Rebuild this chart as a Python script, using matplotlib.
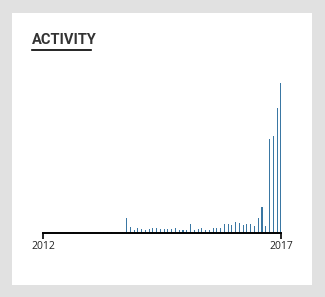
import matplotlib
matplotlib.use("Agg")
import matplotlib.pyplot as plt
from matplotlib.patches import Rectangle
from matplotlib.lines import Line2D

# bucket index (time buckets between 2012 and 2017) and activity values
buckets = [8, 16, 17, 18, 21] + list(range(22, 64))
activity = [1, 1, 1, 1, 1,
            15, 6, 3, 5, 4, 3, 4, 5, 5, 4, 4, 4,
            4, 5, 3, 3, 3, 9, 3, 4, 5, 3, 3, 5, 5, 5,
            9, 9, 8, 11, 10, 8, 9, 9, 7, 15, 26, 7,
            94, 97, 126, 151]
tick_labels = ["2012", "2017"]

W, H = 325, 297
fig = plt.figure(figsize=(W / 100, H / 100), dpi=100, facecolor="#e1e1e1")

# white card
fig.patches.append(Rectangle((12 / W, 1 - 285 / H), 300 / W, 272 / H,
                             transform=fig.transFigure, facecolor="white",
                             edgecolor="none", zorder=-5))

# title and underline
fig.text(31.5 / W, 1 - 40.5 / H, "ACTIVITY", fontsize=10.5, fontweight="bold",
         family=["Roboto", "DejaVu Sans"], color="#333333",
         ha="left", va="center")
fig.lines.append(Line2D([32 / W, 91 / W], [1 - 49.5 / H, 1 - 49.5 / H],
                        transform=fig.transFigure, color="black", lw=1.2))

xl, xr = 43, 281
yb, yt = 233, 82.7
ax = fig.add_axes([xl / W, 1 - yb / H, (xr - xl) / W, (yb - yt) / H])
ax.set_facecolor("none")
ax.set_zorder(2)
ax.bar(buckets, activity, width=0.28, color="#3a77a3", linewidth=0,
       antialiased=False)
left, right = -0.2, 63.05
ax.set_xlim(left, right)
ax.set_ylim(0, max(activity))
for s in ["top", "left", "right"]:
    ax.spines[s].set_visible(False)
ax.spines["bottom"].set_linewidth(1.4)
ax.spines["bottom"].set_color("black")
ax.set_yticks([])
ax.set_xticks([left, right])
ax.set_xticklabels(tick_labels, fontsize=7.5, color="#222222",
                   family=["Open Sans", "DejaVu Sans"])
ax.tick_params(axis="x", direction="out", length=4, width=1.2, pad=2,
               color="black")

fig.savefig("out.png", dpi=100, facecolor=fig.get_facecolor())
